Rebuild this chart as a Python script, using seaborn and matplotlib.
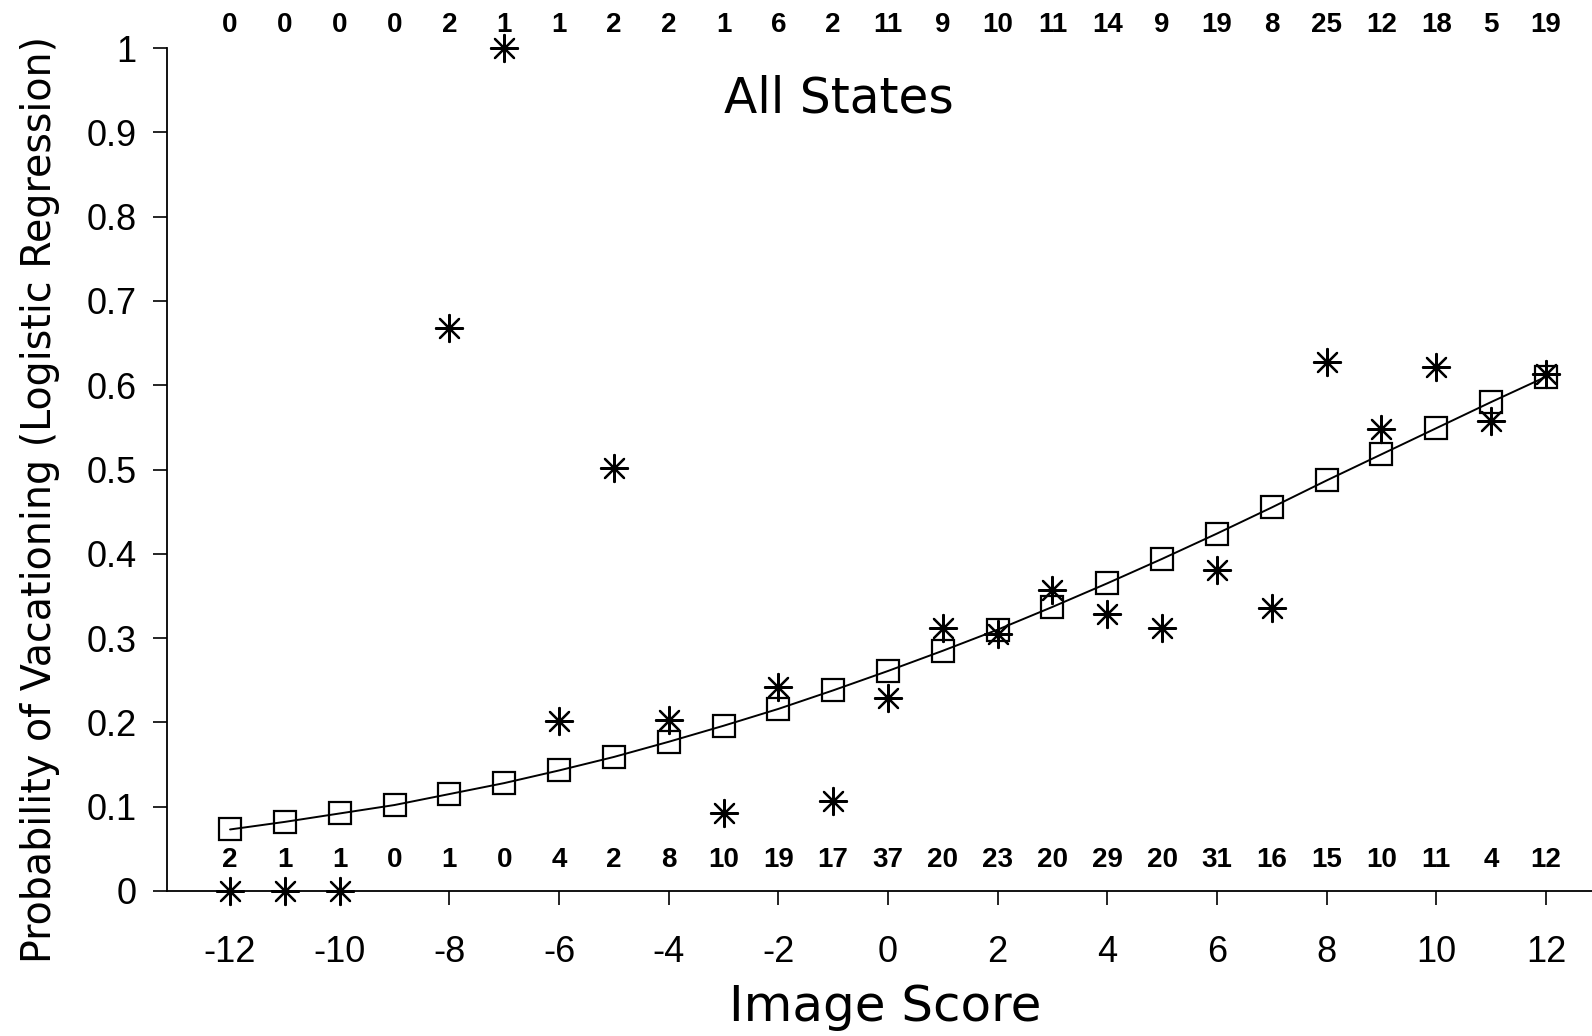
import matplotlib
matplotlib.use("Agg")
import matplotlib.pyplot as plt
import seaborn as sns

# image scores
scores = list(range(-12, 13))

# fitted probabilities (squares on the curve)
fitted = [0.073, 0.082, 0.092, 0.102, 0.115, 0.128, 0.143, 0.159, 0.177, 0.196,
          0.216, 0.238, 0.261, 0.285, 0.310, 0.337, 0.365, 0.394, 0.424, 0.455,
          0.487, 0.518, 0.549, 0.580, 0.610]

# observed proportions (asterisks); no point at -9
obs_x = [-12, -11, -10, -8, -7, -6, -5, -4, -3, -2, -1, 0, 1, 2, 3, 4, 5, 6, 7, 8, 9, 10, 11, 12]
obs_y = [0.0, 0.0, 0.0, 0.668, 1.0, 0.202, 0.502, 0.203, 0.093, 0.242, 0.107, 0.229,
         0.312, 0.305, 0.357, 0.328, 0.312, 0.381, 0.336, 0.627, 0.548, 0.622, 0.557, 0.613]

# counts printed along the top (vacationed) and bottom (did not)
top_counts = [0, 0, 0, 0, 2, 1, 1, 2, 2, 1, 6, 2, 11, 9, 10, 11, 14, 9, 19, 8, 25, 12, 18, 5, 19]
bottom_counts = [2, 1, 1, 0, 1, 0, 4, 2, 8, 10, 19, 17, 37, 20, 23, 20, 29, 20, 31, 16, 15, 10, 11, 4, 12]

x_ticks = list(range(-12, 13, 2))
y_ticks = [0, 0.1, 0.2, 0.3, 0.4, 0.5, 0.6, 0.7, 0.8, 0.9, 1]
y_labels = ['0', '0.1', '0.2', '0.3', '0.4', '0.5', '0.6', '0.7', '0.8', '0.9', '1']

sns.set_style("ticks")
plt.rcParams['font.family'] = ['Liberation Sans', 'DejaVu Sans']
plt.rcParams['text.color'] = 'black'
plt.rcParams['axes.labelcolor'] = 'black'

fig = plt.figure(figsize=(15.92, 10.36), dpi=100)
ax = fig.add_axes([167 / 1592, 1 - 891 / 1036, 1 - 167 / 1592, 843 / 1036])

sns.lineplot(x=scores, y=fitted, ax=ax, color='black', linewidth=1.4,
             marker='s', markersize=16, markerfacecolor='none',
             markeredgecolor='black', markeredgewidth=1.6)
sns.scatterplot(x=obs_x, y=obs_y, ax=ax, marker=(8, 2, 0), s=380,
                color='black', linewidth=1.6, clip_on=False, zorder=5)

ax.set_xlim(-13.15, 12.84)
ax.set_ylim(0, 1)
ax.set_xticks(x_ticks)
ax.set_xticklabels([str(v) for v in x_ticks])
ax.set_yticks(y_ticks)
ax.set_yticklabels(y_labels)
ax.tick_params(axis='both', direction='out', length=10, width=1.2, labelsize=26,
               color='black', labelcolor='black')
ax.tick_params(axis='x', pad=22)
ax.tick_params(axis='y', pad=12)
for side in ['top', 'right']:
    ax.spines[side].set_visible(False)
for side in ['left', 'bottom']:
    ax.spines[side].set_color('black')
    ax.spines[side].set_linewidth(1.3)

cnt_font = dict(family=['Liberation Sans Narrow', 'Liberation Sans', 'DejaVu Sans'],
                fontweight='bold', fontsize=20, ha='center', va='center', color='black')
for x, c in zip(scores, top_counts):
    ax.text(x, 1.027, str(c), clip_on=False, **cnt_font)
for x, c in zip(scores, bottom_counts):
    ax.text(x, 0.037, str(c), **cnt_font)

ax.text(-0.9, 0.94, 'All States', fontsize=35, family='DejaVu Sans',
        ha='center', va='center')
ax.set_xlabel('')
ax.set_ylabel('')
fig.text(885 / 1592, 1 - 1007 / 1036, 'Image Score', fontsize=36, family='DejaVu Sans',
         ha='center', va='center')
fig.text(40 / 1592, 1 - 500 / 1036, 'Probability of Vacationing (Logistic Regression)',
         fontsize=28.5, family='DejaVu Sans', rotation=90, ha='center', va='center')

fig.savefig('out.png', dpi=100, facecolor='white')
